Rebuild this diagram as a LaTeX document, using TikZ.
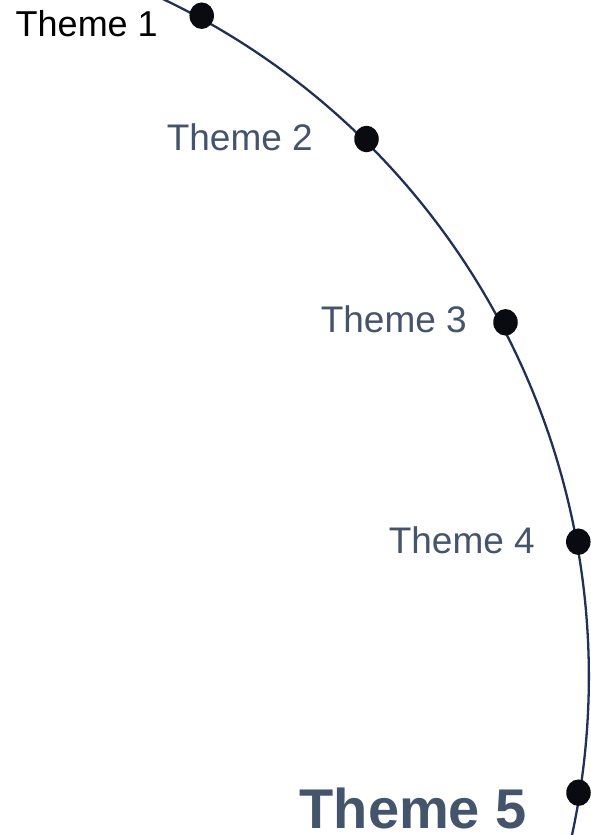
\documentclass[tikz,border=0pt]{standalone}
\usepackage{fontspec}
\setmainfont{Liberation Sans}
\usetikzlibrary{shapes.geometric}
\definecolor{arcblue}{HTML}{1F3158}
\definecolor{slate}{HTML}{44546A}
\definecolor{dotblack}{HTML}{0A0B10}
\tikzset{
  themedot/.style={ellipse, fill=dotblack, inner sep=0pt, minimum width=24.5pt, minimum height=26.5pt},
  themelabel/.style={anchor=base east, inner sep=0pt, font=\fontsize{37}{40}\selectfont, text=slate},
  arcline/.style={draw=arcblue, line width=2.3pt}
}
\begin{document}
\begin{tikzpicture}[x=1pt,y=-1pt]
\useasboundingbox (0,0) rectangle (590,835);
\begin{scope}
\clip (0,0) rectangle (590,835);
\coordinate (arcstart) at (154.4,-5);
\draw[arcline] (arcstart) arc[start angle=-65.26, end angle=12.95, x radius=747, y radius=750.7];
\end{scope}
\node[themedot] (d1) at (201.7,15.7) {};
\node[themedot] (d2) at (366.5,139) {};
\node[themedot] (d3) at (505.5,322.3) {};
\node[themedot] (d4) at (578.3,541.7) {};
\node[themedot] (d5) at (578.5,792.7) {};
\node[themelabel, text=black, font=\fontsize{36}{40}\selectfont] (t1) at (158,36) {Theme 1};
\node[themelabel] (t2) at (313,150) {Theme 2};
\node[themelabel] (t3) at (467,332) {Theme 3};
\node[themelabel] (t4) at (535,553) {Theme 4};
\node[themelabel, font=\fontsize{56}{60}\selectfont\bfseries] (t5) at (527,828) {Theme 5};
\end{tikzpicture}
\end{document}
